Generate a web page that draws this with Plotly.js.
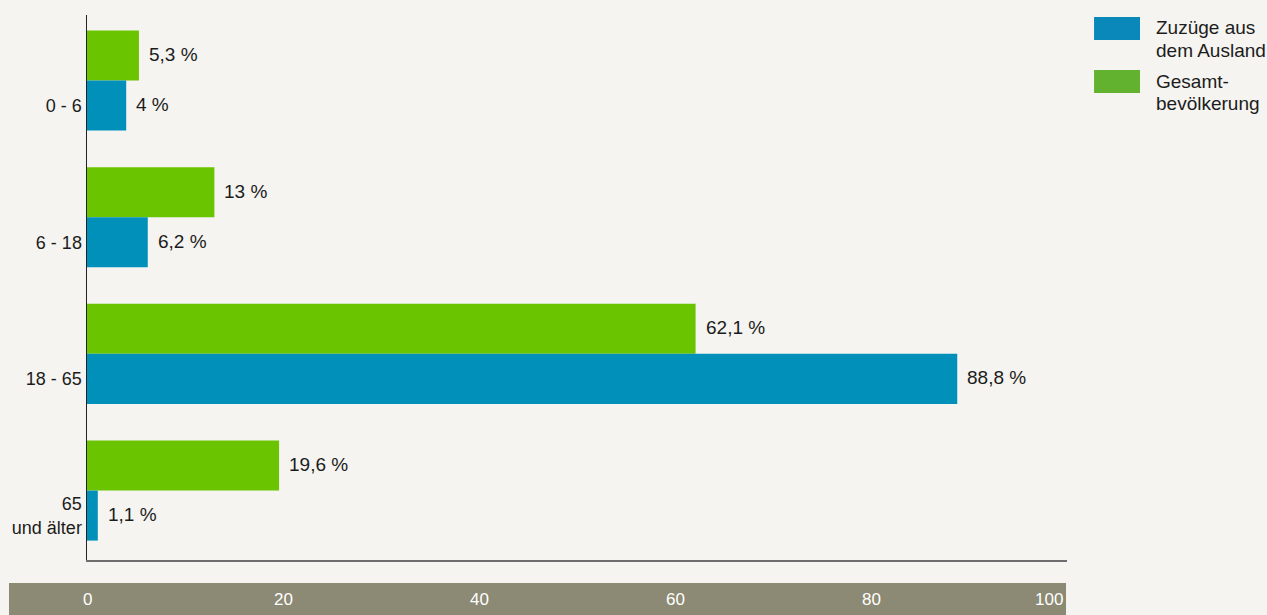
<!DOCTYPE html>
<html>
<head>
<meta charset="utf-8">
<script src="https://cdn.plot.ly/plotly-3.0.1.min.js"></script>
<style>
  html, body { margin: 0; padding: 0; background: #f5f4f0; }
  #chart { width: 1267px; height: 615px; }
</style>
</head>
<body>
<div id="chart"></div>
<script>
// ---- data ----
const categories = ['0 - 6', '6 - 18', '18 - 65', '65<br>und älter'];
const zuzuegeAusland = [4, 6.2, 88.8, 1.1];
const gesamtbevoelkerung = [5.3, 13, 62.1, 19.6];
const xTicks = [0, 20, 40, 60, 80, 100];
const legendLinesBlue = ['Zuzüge aus', 'dem Ausland'];
const legendLinesGreen = ['Gesamt-', 'bevölkerung'];

// ---- styling ----
const FONT = '"Liberation Sans", Arial, Helvetica, sans-serif';
const BLUE = '#0090b9';
const GREEN = '#6bc400';
const LEG_BLUE = '#0a88ba';
const LEG_GREEN = '#63b22f';
const TXT = '#1c1c1c';
const BW = 0.366;
const PH = 545; // plot height px
const py = p => (560 - p) / PH; // pixel y -> paper y

const idx = categories.map((c, i) => i);
const fmt = v => String(v).replace('.', ',') + ' %';

const traces = [
  {
    type: 'bar', orientation: 'h',
    x: gesamtbevoelkerung, y: idx.map(i => i - BW / 2), width: BW,
    marker: { color: GREEN }, name: 'Gesamtbevölkerung', hoverinfo: 'skip'
  },
  {
    type: 'bar', orientation: 'h',
    x: zuzuegeAusland, y: idx.map(i => i + BW / 2), width: BW,
    marker: { color: BLUE }, name: 'Zuzüge aus dem Ausland', hoverinfo: 'skip'
  }
];

const annotations = [];
gesamtbevoelkerung.forEach((v, i) => annotations.push({
  x: v, y: i - BW / 2, xref: 'x', yref: 'y', text: fmt(v), showarrow: false,
  xanchor: 'left', yanchor: 'middle', xshift: 8, yshift: 1, font: { family: FONT, size: 19, color: TXT }
}));
zuzuegeAusland.forEach((v, i) => annotations.push({
  x: v, y: i + BW / 2, xref: 'x', yref: 'y', text: fmt(v), showarrow: false,
  xanchor: 'left', yanchor: 'middle', xshift: 8, yshift: 1, font: { family: FONT, size: 19, color: TXT }
}));
xTicks.forEach(t => annotations.push({
  x: t, y: py(599), xref: 'x', yref: 'paper', text: String(t), showarrow: false,
  xanchor: t === 100 ? 'right' : 'center', yanchor: 'middle', xshift: t === 100 ? -2 : 0,
  font: { family: FONT, size: 17, color: '#ffffff' }
}));
// legend texts
const legY = [[28, 50.5], [81, 103.5]];
[legendLinesBlue, legendLinesGreen].forEach((lines, k) => lines.forEach((ln, j) => annotations.push({
  x: 1.0888, y: py(legY[k][j]), xref: 'paper', yref: 'paper', text: ln, showarrow: false,
  xanchor: 'left', yanchor: 'middle', align: 'left', font: { family: FONT, size: 19, color: TXT }
})));

const shapes = [
  { type: 'rect', xref: 'paper', yref: 'paper', x0: -0.0796, x1: 0.999, y0: py(615), y1: py(583),
    fillcolor: '#8c8a74', line: { width: 0 }, layer: 'below' },
  { type: 'rect', xref: 'paper', yref: 'paper', x0: 1.0276, x1: 1.0745, y0: py(40), y1: py(17),
    fillcolor: LEG_BLUE, line: { width: 0 } },
  { type: 'rect', xref: 'paper', yref: 'paper', x0: 1.0276, x1: 1.0745, y0: py(93), y1: py(70),
    fillcolor: LEG_GREEN, line: { width: 0 } }
];

const layout = {
  width: 1267, height: 615,
  margin: { l: 87, r: 200, t: 15, b: 55 },
  paper_bgcolor: '#f5f4f0', plot_bgcolor: '#f5f4f0',
  showlegend: false,
  barmode: 'overlay',
  font: { family: FONT, size: 16, color: TXT },
  xaxis: {
    range: [0, 100], showgrid: false, zeroline: false, showticklabels: false,
    showline: true, linecolor: '#6e6e6e', linewidth: 2, ticks: '', fixedrange: true
  },
  yaxis: {
    range: [3.508, -0.479], showgrid: false, zeroline: false,
    tickmode: 'array', tickvals: idx.map(i => i + BW / 2), ticktext: categories,
    tickfont: { family: FONT, size: 18, color: TXT }, ticks: '',
    showline: true, linecolor: '#222222', linewidth: 1.5, fixedrange: true
  },
  annotations: annotations,
  shapes: shapes
};

Plotly.newPlot('chart', traces, layout, { displayModeBar: false, staticPlot: true });
</script>
</body>
</html>
